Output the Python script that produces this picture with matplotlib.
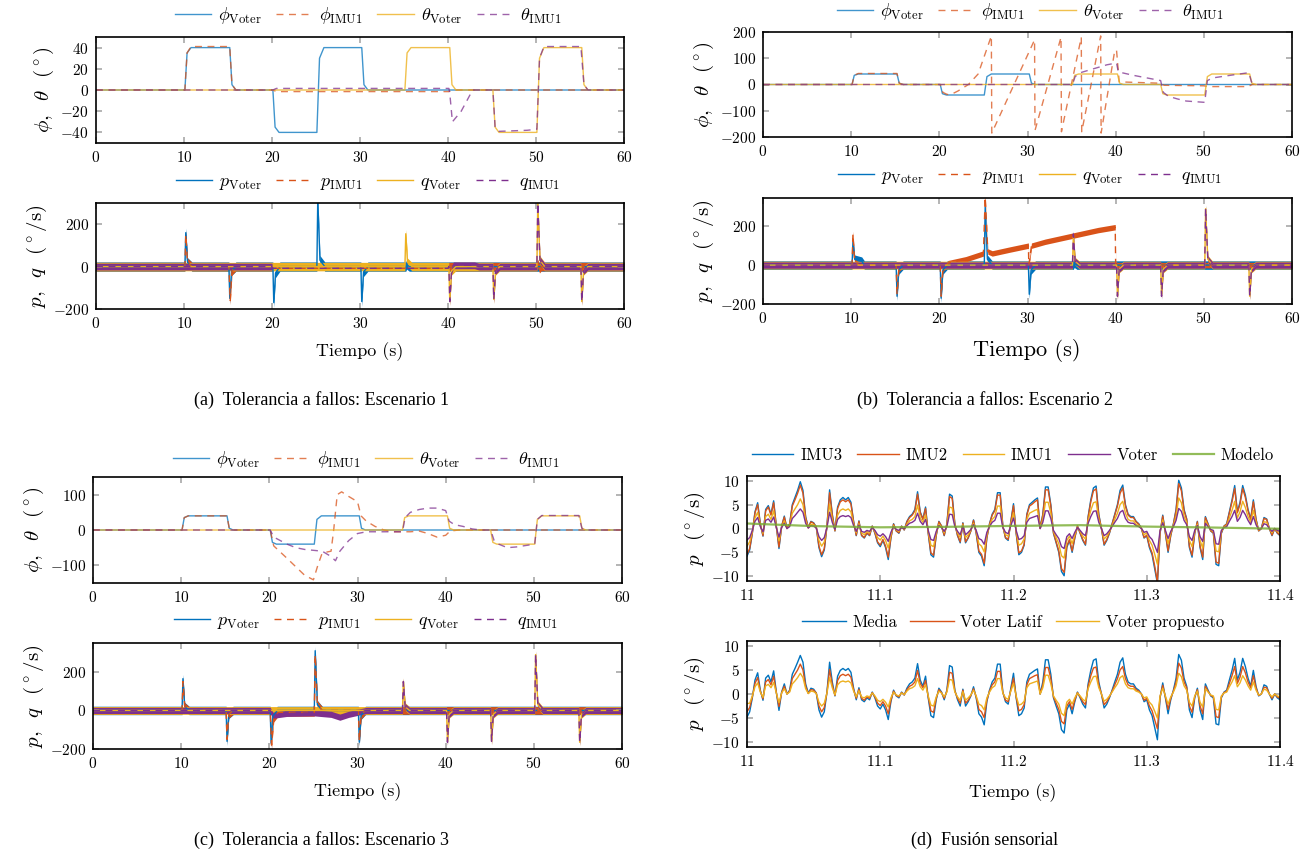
import matplotlib
matplotlib.use('Agg')
import matplotlib.pyplot as plt
from matplotlib.ticker import FuncFormatter
import numpy as np

plt.rcParams['font.family'] = 'cmr10'
plt.rcParams['mathtext.fontset'] = 'cm'
plt.rcParams['axes.formatter.use_mathtext'] = True

BLUE, ORANGE, YELLOW, PURPLE, GREEN = '#0072BD', '#D95319', '#EDB120', '#7E2F8E', '#77AC30'
DASH = (0, (5, 4))

# ---------------- angles (deg) ----------------
# voter steps, same in the three scenarios
t_phi_v = [0, 10.1, 10.35, 10.8, 15.2, 15.45, 15.9, 20.1, 20.35, 20.8, 25.1, 25.4, 25.9, 30.2, 30.45, 30.9, 60]
phi_v = [0, 0, 35, 40, 40, 5, 0, 0, -35, -40, -40, 30, 40, 40, 5, 0, 0]
t_th_v = [0, 35.1, 35.35, 35.8, 40.2, 40.45, 40.9, 45.1, 45.35, 45.8, 50.1, 50.4, 50.9, 55.2, 55.45, 55.9, 60]
th_v = [0, 0, 35, 40, 40, 5, 0, 0, -35, -40, -40, 30, 40, 40, 5, 0, 0]

# scenario 1
t_phi_i_a = [0, 10.1, 10.35, 10.8, 15.2, 15.45, 15.9, 20.1, 20.5, 40.1, 40.5, 60]
phi_i_a = [0, 0, 35, 41, 41, 5, 0, 0, -1.5, -1.5, 0, 0]
t_th_i_a = [0, 20.1, 20.5, 40.1, 40.2, 40.5, 41.5, 42.8, 45.1, 45.35, 45.8, 49, 50.1, 50.4, 50.9, 55.1, 55.45, 55.9, 60]
th_i_a = [0, 0, 1.5, 1.5, -3, -30, -20, 0, 0, -35, -39, -38, -37, 30, 41, 41, 5, 0, 0]

# scenario 2
t_phi_i_b = [0, 10.1, 10.35, 10.8, 15.2, 15.45, 15.9, 20.1, 20.4, 20.9, 21.5, 22.1, 23.3, 24.4, 25.9, 25.95,
             30.8, 30.85, 33.8, 33.85, 36.1, 36.15, 38.3, 38.35, 39.9, 40.1, 40.4, 45, 45.5, 50, 50.5, 55, 55.5, 60]
phi_i_b = [0, 0, 35, 42, 42, 5, 0, 0, -30, -38, -35, -25, 0, 40, 185, -185,
           170, -175, 180, -180, 180, -180, 185, -185, 130, 130, 10, 5, -3, -5, -8, -8, 0, 0]
t_th_i_b = [0, 35.1, 35.4, 36, 37, 38, 39, 40.1, 40.3, 42, 45.1, 45.4, 46, 47, 48, 50.1, 50.4, 51, 53, 55.1, 55.4, 55.9, 60]
th_i_b = [0, 0, 30, 45, 55, 65, 75, 82, 48, 35, 15, -30, -45, -55, -63, -68, 15, 25, 35, 45, 10, 0, 0]

# scenario 3
t_phi_i_c = [0, 10.1, 10.35, 10.8, 15.2, 15.45, 15.9, 20.1, 20.5, 22, 24, 25, 25.5, 26, 27, 27.3, 27.7, 28.2,
             29, 30, 30.4, 31, 32, 33, 34, 36, 37, 38, 39, 40, 40.5, 41.5, 60]
phi_i_c = [0, 0, 35, 40, 40, 5, 0, 0, -45, -80, -128, -141, -100, -65, -60, 0, 100, 108,
           95, 80, 40, 25, 10, 0, -5, -5, -3, -10, -20, -15, -3, 0, 0]
t_th_i_c = [0, 20.1, 20.5, 22, 23, 24, 26, 27, 27.5, 28, 29, 30, 31, 34, 35.1, 35.4, 36, 37, 38, 39, 40,
            40.4, 41, 42, 43, 44, 45.1, 45.5, 46, 47, 48, 50.1, 50.4, 50.9, 55.1, 55.45, 55.9, 60]
th_i_c = [0, 0, -20, -40, -50, -55, -60, -75, -87, -60, -30, -10, -5, -5, -5, 35, 50, 58, 62, 62, 55,
          25, 15, 10, 3, 0, 0, -30, -40, -50, -48, -40, 30, 41, 41, 5, 0, 0]

# ---------------- rates (deg/s): trace and noise half-width ----------------
# scenario 1
t_p_v_a = [0, 10.1, 10.2, 10.4, 10.9, 15.1, 15.2, 15.4, 15.9, 20.1, 20.2, 20.4, 20.9, 25.1, 25.2, 25.45, 26.0,
           30.1, 30.2, 30.4, 30.9, 35.2, 35.3, 35.6, 60]
p_v_a = [0, 0, 160, 20, 0, 0, -150, -20, 0, 0, -170, -30, 0, 0, 320, 30, 0, 0, -165, -25, 0, 0, 10, 0, 0]
t_p_i_a = [0, 10.1, 10.2, 10.4, 10.9, 15.1, 15.25, 15.45, 15.9, 20.0, 20.05, 40.0, 40.05, 50.1, 50.2, 50.4, 50.6, 60]
p_i_a = [0, 0, 150, 20, 0, 0, -160, -20, 0, 0, -8, -8, 0, 0, 15, -10, 0, 0]
w_p_i_a = [20, 20, 20, 20, 20, 20, 20, 20, 20, 20, 0, 0, 20, 20, 20, 20, 20, 20]
t_q_v_a = [0, 35.1, 35.2, 35.4, 35.9, 40.1, 40.2, 40.4, 40.9, 45.1, 45.2, 45.4, 45.9, 50.1, 50.2, 50.45, 51.0,
           55.1, 55.2, 55.4, 55.9, 60]
q_v_a = [0, 0, 155, 20, 0, 0, -165, -20, 0, 0, -155, -20, 0, 0, 300, 30, 0, 0, -165, -20, 0, 0]
t_q_i_a = [0, 20.0, 20.05, 40.0, 40.1, 40.2, 40.4, 40.6, 43.0, 43.5, 45.1, 45.2, 45.4, 45.9, 50.1, 50.2, 50.45,
           51.0, 55.1, 55.2, 55.4, 55.9, 60]
q_i_a = [0, 0, -8, -8, 0, -165, -20, 6, 6, 0, 0, -155, -20, 0, 0, 300, 30, 0, 0, -165, -20, 0, 0]
w_q_i_a = [16, 16, 0, 0, 16, 16, 16, 16, 16, 16, 16, 16, 16, 16, 16, 16, 16, 16, 16, 16, 16, 16, 16]

# scenario 2
t_p_v_b = [0, 10.1, 10.2, 10.4, 11.2, 11.5, 15.1, 15.2, 15.4, 15.9, 20.1, 20.2, 20.4, 20.9, 25.1, 25.2, 25.45,
           26.0, 30.1, 30.2, 30.4, 30.9, 35.2, 35.3, 35.6, 60]
p_v_b = [0, 0, 120, 30, 20, 0, 0, -160, -25, 0, 0, -170, -25, 0, 0, 300, 30, 0, 0, -150, -25, 0, 0, 10, 0, 0]
t_p_i_b = [0, 10.1, 10.2, 10.4, 10.9, 15.1, 15.2, 15.4, 15.9, 20.1, 20.2, 20.4, 21.0, 23.0, 24.0, 25.0, 25.2,
           25.5, 26.0, 28.0, 30.1, 30.15, 30.45, 32, 34, 36, 38, 39.95, 40.0, 40.2, 60]
p_i_b = [0, 0, 160, 20, 0, 0, -150, -20, 0, 0, -160, -20, 10, 30, 45, 60, 350,
         70, 60, 80, 100, 0, 100, 120, 140, 160, 180, 195, 0, 0, 0]
t_q_b = [0, 35.1, 35.2, 35.4, 35.9, 40.1, 40.2, 40.4, 40.9, 45.1, 45.2, 45.4, 45.9, 50.1, 50.2, 50.45, 51.0,
         55.1, 55.2, 55.4, 55.9, 60]
q_v_b = [0, 0, 150, 20, 0, 0, -160, -20, 0, 0, -150, -20, 0, 0, 290, 30, 0, 0, -160, -20, 0, 0]
q_i_b = [0, 0, 160, 20, 0, 0, -160, -20, 0, 0, -160, -20, 0, 0, 290, 30, 0, 0, -160, -20, 0, 0]

# scenario 3
t_p_v_c = [0, 10.1, 10.2, 10.4, 10.9, 15.1, 15.2, 15.4, 15.9, 20.1, 20.2, 20.4, 20.9, 25.1, 25.2, 25.45, 26.0,
           30.1, 30.2, 30.4, 30.9, 60]
p_v_c = [0, 0, 165, 20, 0, 0, -160, -20, 0, 0, -170, -30, 0, 0, 310, 30, 0, 0, -165, -25, 0, 0]
t_p_i_c = [0, 10.1, 10.2, 10.4, 10.9, 15.1, 15.2, 15.4, 15.9, 20.1, 20.25, 20.5, 21, 25.1, 25.2, 25.45, 26.0,
           30.1, 30.2, 30.4, 30.9, 60]
p_i_c = [0, 0, 150, 20, 0, 0, -150, -20, 0, 0, -180, -40, -10, -10, 290, 30, 0, 0, -160, -25, 0, 0]
t_q_v_c = [0, 35.1, 35.2, 35.4, 35.9, 40.1, 40.2, 40.4, 40.9, 45.1, 45.2, 45.4, 45.9, 50.1, 50.2, 50.45, 51.0,
           55.1, 55.2, 55.4, 55.9, 60]
q_v_c = [0, 0, 150, 20, 0, 0, -160, -20, 0, 0, -160, -20, 0, 0, 290, 30, 0, 0, -165, -20, 0, 0]
t_q_i_c = [0, 20.1, 20.4, 22, 25, 27, 28, 29, 30, 31, 35.1, 35.2, 35.4, 35.9, 40.1, 40.2, 40.4, 40.9,
           45.1, 45.2, 45.4, 45.9, 50.1, 50.2, 50.45, 51.0, 55.1, 55.2, 55.4, 55.9, 60]
q_i_c = [0, 0, -25, -15, -12, -20, -35, -20, -10, 0, 0, 150, 20, 0, 0, -165, -20, 0,
         0, -160, -20, 0, 0, 290, 30, 0, 0, -165, -20, 0, 0]

# ---------------- sensor fusion, 11.0 - 11.4 s every 2 ms ----------------
t_d = np.linspace(11.0, 11.4, 201)
imu3 = [-5.8, -4.5, -1.0, 3.5, 5.4, 1.0, -1.6, 4.0, 4.8, 3.0,
        5.8, 0.5, -4.2, 0.5, 2.6, 0.0, 1.0, 5.0, 6.5, 8.0,
        9.8, 8.0, 2.5, 0.2, 1.5, 1.2, 0.3, -4.0, -5.9, -4.5,
        0.5, 8.1, 3.0, -0.5, 4.5, 6.0, 6.5, 6.0, 6.5, 5.5,
        1.5, -1.5, 1.6, -1.5, -2.0, -1.0, -1.5, 0.5, -1.0, -3.0,
        -3.8, -2.5, -4.0, -6.5, -2.0, 1.0, -0.5, -1.0, 0.5, -0.3,
        1.5, 2.5, 3.0, 4.0, 7.7, 3.5, 2.0, 4.5, -1.0, -5.5,
        -6.0, -1.5, 1.5, 0.5, -1.5, 1.0, 7.2, 6.8, 1.0, -1.5,
        -3.0, 1.2, -3.0, -2.0, -0.5, 1.8, -1.0, -5.0, -5.8, -7.8,
        -2.0, 1.0, 3.0, 4.0, 7.5, 7.5, 0.5, -2.0, -2.5, 1.5,
        5.2, -1.0, -5.5, -5.0, -3.5, 3.0, 5.0, 5.5, 6.0, 6.4,
        0.0, 3.0, 8.7, 8.7, 5.0, -1.0, -3.0, -5.0, -9.0, -9.9,
        -4.0, -2.5, -5.0, -2.0, 0.5, -1.0, -2.5, -3.5, 2.5, 6.0,
        8.5, 8.9, 3.0, 0.0, -3.5, -2.5, -1.0, 1.0, 3.0, 5.0,
        8.0, 9.1, 5.0, 3.0, 2.5, 2.5, 1.5, 1.0, 0.0, -2.0,
        -1.5, -4.0, -5.5, -8.5, -11.5, -1.0, 2.8, -1.0, -5.0, -1.5,
        1.0, 4.0, 10.1, 8.5, 4.0, 2.0, -4.0, -6.0, -1.0, 1.5,
        -4.0, -6.5, 2.5, 1.0, -0.5, -1.0, -7.5, -7.8, -1.0, 0.5,
        1.0, 3.5, 6.0, 9.0, 3.5, 5.5, 9.0, 7.0, 4.0, 2.0,
        6.0, 2.0, -0.5, 0.0, 2.3, 2.0, 0.0, -1.5, 0.0, -1.0,
        -1.5]
imu2 = [-5.4, -4.2, -0.9, 3.3, 5.0, 0.9, -1.5, 3.7, 4.5, 2.8,
        5.4, 0.5, -3.9, 0.5, 2.4, 0.0, 0.9, 4.7, 6.0, 7.4,
        9.1, 7.4, 2.3, 0.2, 1.4, 1.1, 0.3, -3.7, -5.5, -4.2,
        0.5, 7.5, 2.8, -0.5, 4.2, 5.6, 6.0, 5.6, 6.0, 5.1,
        1.4, -1.4, 1.5, -1.4, -1.9, -0.9, -1.4, 0.5, -0.9, -2.8,
        -3.5, -2.3, -3.7, -6.0, -1.9, 0.9, -0.5, -0.9, 0.5, -0.3,
        1.4, 2.3, 2.8, 3.7, 7.2, 3.3, 1.9, 4.2, -0.9, -5.1,
        -5.6, -1.4, 1.4, 0.5, -1.4, 0.9, 6.7, 6.3, 0.9, -1.4,
        -2.8, 1.1, -2.8, -1.9, -0.5, 1.7, -0.9, -4.7, -5.4, -7.3,
        -1.9, 0.9, 2.8, 3.7, 7.0, 7.0, 0.5, -1.9, -2.3, 1.4,
        4.8, -0.9, -5.1, -4.7, -3.3, 2.8, 4.7, 5.1, 5.6, 6.0,
        0.0, 2.8, 8.1, 8.1, 4.7, -0.9, -2.8, -4.7, -8.4, -9.2,
        -3.7, -2.3, -4.7, -1.9, 0.5, -0.9, -2.3, -3.3, 2.3, 5.6,
        7.9, 8.3, 2.8, 0.0, -3.3, -2.3, -0.9, 0.9, 2.8, 4.7,
        7.4, 8.5, 4.7, 2.8, 2.3, 2.3, 1.4, 0.9, 0.0, -1.9,
        -1.4, -3.7, -5.1, -7.9, -11.2, -0.9, 2.6, -0.9, -4.7, -1.4,
        0.9, 3.7, 9.4, 7.9, 3.7, 1.9, -3.7, -5.6, -0.9, 1.4,
        -3.7, -6.0, 2.3, 0.9, -0.5, -0.9, -7.0, -7.3, -0.9, 0.5,
        0.9, 3.3, 5.6, 8.4, 3.3, 5.1, 8.4, 6.5, 3.7, 1.9,
        5.6, 1.9, -0.5, 0.0, 2.1, 1.9, 0.0, -1.4, 0.0, -0.9,
        -1.4]
imu1 = [-3.7, -2.8, -0.6, 2.2, 3.4, 0.6, -1.0, 2.5, 3.0, 1.9,
        3.7, 0.3, -2.6, 0.3, 1.6, 0.0, 0.6, 3.2, 4.1, 5.0,
        6.2, 5.0, 1.6, 0.1, 0.9, 0.8, 0.2, -2.5, -3.7, -2.8,
        0.3, 5.1, 1.9, -0.3, 2.8, 3.8, 4.1, 3.8, 4.1, 3.5,
        0.9, -0.9, 1.0, -0.9, -1.3, -0.6, -0.9, 0.3, -0.6, -1.9,
        -2.4, -1.6, -2.5, -4.1, -1.3, 0.6, -0.3, -0.6, 0.3, -0.2,
        0.9, 1.6, 1.9, 2.5, 4.9, 2.2, 1.3, 2.8, -0.6, -3.5,
        -3.8, -0.9, 0.9, 0.3, -0.9, 0.6, 4.5, 4.3, 0.6, -0.9,
        -1.9, 0.8, -1.9, -1.3, -0.3, 1.1, -0.6, -3.2, -3.7, -4.9,
        -1.3, 0.6, 1.9, 2.5, 4.7, 4.7, 0.3, -1.3, -1.6, 0.9,
        3.3, -0.6, -3.5, -3.2, -2.2, 1.9, 3.2, 3.5, 3.8, 4.0,
        0.0, 1.9, 5.5, 5.5, 3.2, -0.6, -1.9, -3.2, -5.7, -6.2,
        -2.5, -1.6, -3.2, -1.3, 0.3, -0.6, -1.6, -2.2, 1.6, 3.8,
        5.4, 5.6, 1.9, 0.0, -2.2, -1.6, -0.6, 0.6, 1.9, 3.2,
        5.0, 5.7, 3.2, 1.9, 1.6, 1.6, 0.9, 0.6, 0.0, -1.3,
        -0.9, -2.5, -3.5, -5.4, -7.5, -0.6, 1.8, -0.6, -3.2, -0.9,
        0.6, 2.5, 6.4, 5.4, 2.5, 1.3, -2.5, -3.8, -0.6, 0.9,
        -2.5, -4.1, 1.6, 0.6, -0.3, -0.6, -4.7, -4.9, -0.6, 0.3,
        0.6, 2.2, 3.8, 5.7, 2.2, 3.5, 5.7, 4.4, 2.5, 1.3,
        3.8, 1.3, -0.3, 0.0, 1.4, 1.3, 0.0, -0.9, 0.0, -0.6,
        -0.9]
voter = [-2.4, -1.9, -0.4, 1.5, 2.3, 0.4, -0.7, 1.7, 2.0, 1.3,
         2.4, 0.2, -1.8, 0.2, 1.1, 0.0, 0.4, 2.1, 2.7, 3.4,
         4.1, 3.4, 1.1, 0.1, 0.6, 0.5, 0.1, -1.7, -2.5, -1.9,
         0.2, 3.4, 1.3, -0.2, 1.9, 2.5, 2.7, 2.5, 2.7, 2.3,
         0.6, -0.6, 0.7, -0.6, -0.8, -0.4, -0.6, 0.2, -0.4, -1.3,
         -1.6, -1.1, -1.7, -2.7, -0.8, 0.4, -0.2, -0.4, 0.2, -0.1,
         0.6, 1.1, 1.3, 1.7, 3.2, 1.5, 0.8, 1.9, -0.4, -2.3,
         -2.5, -0.6, 0.6, 0.2, -0.6, 0.4, 3.0, 2.9, 0.4, -0.6,
         -1.3, 0.5, -1.3, -0.8, -0.2, 0.8, -0.4, -2.1, -2.4, -3.3,
         -0.8, 0.4, 1.3, 1.7, 3.2, 3.2, 0.2, -0.8, -1.1, 0.6,
         2.2, -0.4, -2.3, -2.1, -1.5, 1.3, 2.1, 2.3, 2.5, 2.7,
         0.0, 1.3, 3.7, 3.7, 2.1, -0.4, -1.3, -2.1, -3.8, -4.2,
         -1.7, -1.1, -2.1, -0.8, 0.2, -0.4, -1.1, -1.5, 1.1, 2.5,
         3.6, 3.7, 1.3, 0.0, -1.5, -1.1, -0.4, 0.4, 1.3, 2.1,
         3.4, 3.8, 2.1, 1.3, 1.1, 1.1, 0.6, 0.4, 0.0, -0.8,
         -0.6, -1.7, -2.3, -3.6, -5.0, -0.4, 1.2, -0.4, -2.1, -0.6,
         0.4, 1.7, 4.2, 3.6, 1.7, 0.8, -1.7, -2.5, -0.4, 0.6,
         -1.7, -2.7, 1.1, 0.4, -0.2, -0.4, -3.2, -3.3, -0.4, 0.2,
         0.4, 1.5, 2.5, 3.8, 1.5, 2.3, 3.8, 2.9, 1.7, 0.8,
         2.5, 0.8, -0.2, 0.0, 1.0, 0.8, 0.0, -0.6, 0.0, -0.4,
         -0.6]
t_modelo = [11.0, 11.05, 11.1, 11.15, 11.2, 11.25, 11.3, 11.35, 11.4]
modelo = [1.05, 0.5, 0.25, 0.35, 0.55, 0.7, 0.4, 0.2, -0.05]

media = [-4.8, -3.7, -0.8, 2.9, 4.4, 0.8, -1.3, 3.3, 3.9, 2.5,
         4.8, 0.4, -3.4, 0.4, 2.1, 0.0, 0.8, 4.1, 5.3, 6.6,
         8.0, 6.6, 2.1, 0.2, 1.2, 1.0, 0.2, -3.3, -4.8, -3.7,
         0.4, 6.6, 2.5, -0.4, 3.7, 4.9, 5.3, 4.9, 5.3, 4.5,
         1.2, -1.2, 1.3, -1.2, -1.6, -0.8, -1.2, 0.4, -0.8, -2.5,
         -3.1, -2.1, -3.3, -5.3, -1.6, 0.8, -0.4, -0.8, 0.4, -0.2,
         1.2, 2.1, 2.5, 3.3, 6.3, 2.9, 1.6, 3.7, -0.8, -4.5,
         -4.9, -1.2, 1.2, 0.4, -1.2, 0.8, 5.9, 5.6, 0.8, -1.2,
         -2.5, 1.0, -2.5, -1.6, -0.4, 1.5, -0.8, -4.1, -4.8, -6.4,
         -1.6, 0.8, 2.5, 3.3, 6.2, 6.2, 0.4, -1.6, -2.1, 1.2,
         4.3, -0.8, -4.5, -4.1, -2.9, 2.5, 4.1, 4.5, 4.9, 5.2,
         0.0, 2.5, 7.1, 7.1, 4.1, -0.8, -2.5, -4.1, -7.4, -8.1,
         -3.3, -2.1, -4.1, -1.6, 0.4, -0.8, -2.1, -2.9, 2.1, 4.9,
         7.0, 7.3, 2.5, 0.0, -2.9, -2.1, -0.8, 0.8, 2.5, 4.1,
         6.6, 7.5, 4.1, 2.5, 2.1, 2.1, 1.2, 0.8, 0.0, -1.6,
         -1.2, -3.3, -4.5, -7.0, -9.5, -0.8, 2.3, -0.8, -4.1, -1.2,
         0.8, 3.3, 8.2, 7.0, 3.3, 1.6, -3.3, -4.9, -0.8, 1.2,
         -3.3, -5.3, 2.1, 0.8, -0.4, -0.8, -6.2, -6.4, -0.8, 0.4,
         0.8, 2.9, 4.9, 7.4, 2.9, 4.5, 7.4, 5.7, 3.3, 1.6,
         4.9, 1.6, -0.4, 0.0, 1.9, 1.6, 0.0, -1.2, 0.0, -0.8,
         -1.2]
latif = [-3.7, -2.8, -0.6, 2.2, 3.4, 0.6, -1.0, 2.5, 3.0, 1.9,
         3.7, 0.3, -2.6, 0.3, 1.6, 0.0, 0.6, 3.2, 4.1, 5.0,
         6.2, 5.0, 1.6, 0.1, 0.9, 0.8, 0.2, -2.5, -3.7, -2.8,
         0.3, 5.1, 1.9, -0.3, 2.8, 3.8, 4.1, 3.8, 4.1, 3.5,
         0.9, -0.9, 1.0, -0.9, -1.3, -0.6, -0.9, 0.3, -0.6, -1.9,
         -2.4, -1.6, -2.5, -4.1, -1.3, 0.6, -0.3, -0.6, 0.3, -0.2,
         0.9, 1.6, 1.9, 2.5, 4.9, 2.2, 1.3, 2.8, -0.6, -3.5,
         -3.8, -0.9, 0.9, 0.3, -0.9, 0.6, 4.5, 4.3, 0.6, -0.9,
         -1.9, 0.8, -1.9, -1.3, -0.3, 1.1, -0.6, -3.2, -3.7, -4.9,
         -1.3, 0.6, 1.9, 2.5, 4.7, 4.7, 0.3, -1.3, -1.6, 0.9,
         3.3, -0.6, -3.5, -3.2, -2.2, 1.9, 3.2, 3.5, 3.8, 4.0,
         0.0, 1.9, 5.5, 5.5, 3.2, -0.6, -1.9, -3.2, -5.7, -6.2,
         -2.5, -1.6, -3.2, -1.3, 0.3, -0.6, -1.6, -2.2, 1.6, 3.8,
         5.4, 5.6, 1.9, 0.0, -2.2, -1.6, -0.6, 0.6, 1.9, 3.2,
         5.0, 5.7, 3.2, 1.9, 1.6, 1.6, 0.9, 0.6, 0.0, -1.3,
         -0.9, -2.5, -3.5, -5.4, -7.2, -0.6, 1.8, -0.6, -3.2, -0.9,
         0.6, 2.5, 6.4, 5.4, 2.5, 1.3, -2.5, -3.8, -0.6, 0.9,
         -2.5, -4.1, 1.6, 0.6, -0.3, -0.6, -4.7, -4.9, -0.6, 0.3,
         0.6, 2.2, 3.8, 5.7, 2.2, 3.5, 5.7, 4.4, 2.5, 1.3,
         3.8, 1.3, -0.3, 0.0, 1.4, 1.3, 0.0, -0.9, 0.0, -0.6,
         -0.9]
propuesto = [-2.0, -1.9, -0.4, 1.5, 2.3, 0.4, -0.7, 1.7, 2.0, 1.3,
             2.4, 0.2, -1.8, 0.2, 1.1, 0.0, 0.4, 2.1, 2.7, 3.4,
             4.3, 3.4, 1.1, 0.1, 0.6, 0.5, 0.1, -1.7, -2.5, -1.9,
             0.2, 3.4, 1.3, -0.2, 1.9, 2.5, 2.7, 2.5, 2.7, 2.3,
             0.6, -0.6, 0.7, -0.6, -0.8, -0.4, -0.6, 0.2, -0.4, -1.3,
             -1.6, -1.1, -1.7, -2.7, -0.8, 0.4, -0.2, -0.4, 0.2, -0.1,
             0.6, 1.1, 1.3, 1.7, 3.2, 1.5, 0.8, 1.9, -0.4, -2.3,
             -2.5, -0.6, 0.6, 0.2, -0.6, 0.4, 3.0, 2.9, 0.4, -0.6,
             -1.3, 0.5, -1.3, -0.8, -0.2, 0.8, -0.4, -2.1, -2.4, -3.3,
             -0.8, 0.4, 1.3, 1.7, 3.2, 3.2, 0.2, -0.8, -1.1, 0.6,
             2.2, -0.4, -2.3, -2.1, -1.5, 1.3, 2.1, 2.3, 2.5, 2.7,
             0.0, 1.3, 3.9, 3.9, 2.1, -0.4, -1.3, -2.1, -4.0, -4.5,
             -1.7, -1.1, -2.1, -0.8, 0.2, -0.4, -1.1, -1.5, 1.1, 2.5,
             3.6, 3.7, 1.3, 0.0, -1.5, -1.1, -0.4, 0.4, 1.3, 2.1,
             3.4, 3.8, 2.1, 1.3, 1.1, 1.1, 0.6, 0.4, 0.0, -0.8,
             -0.6, -1.7, -2.3, -3.6, -5.0, -0.4, 1.2, -0.4, -2.1, -0.6,
             0.4, 1.7, 4.3, 3.6, 1.7, 0.8, -1.7, -2.5, -0.4, 0.6,
             -1.7, -2.7, 1.1, 0.4, -0.2, -0.4, -3.2, -3.3, -0.4, 0.2,
             0.4, 1.5, 2.5, 3.8, 1.5, 2.3, 3.8, 2.9, 1.7, 0.8,
             2.5, 0.8, -0.2, 0.0, 1.0, 0.8, 0.0, -0.6, 0.0, -0.4,
             -0.6]

# ---------------- figure ----------------
W, H = 1311, 852
fig = plt.figure(figsize=(W / 100, H / 100), dpi=100)
fmt = FuncFormatter(lambda v, p: '$%g$' % v)


def box(x0, y0, x1, y1):
    return fig.add_axes([x0 / W, 1 - y1 / H, (x1 - x0) / W, (y1 - y0) / H])


def style(ax, xlim, ylim, xticks, yticks, ylabel):
    ax.set_xlim(*xlim)
    ax.set_ylim(*ylim)
    ax.set_xticks(xticks)
    ax.set_yticks(yticks)
    ax.xaxis.set_major_formatter(fmt)
    ax.yaxis.set_major_formatter(fmt)
    ax.tick_params(direction='in', length=4, width=1.2, color='#a8a8a8', top=True, right=True,
                   labelsize=11, pad=5)
    for s in ax.spines.values():
        s.set_linewidth(1.2)
    ax.set_ylabel(ylabel, fontsize=15, labelpad=3)


def legend(ax, x, y, size=13, hl=2.0, spacing=0.8):
    ax.legend(loc='center', bbox_to_anchor=(x / W, 1 - y / H), bbox_transform=fig.transFigure,
              ncol=5, frameon=False, handlelength=hl, handletextpad=0.4, columnspacing=spacing,
              fontsize=size, borderaxespad=0, borderpad=0)


def angles(ax, t_pi, pi, t_ti, ti):
    ax.plot(t_phi_v, phi_v, color=BLUE, lw=1.0, alpha=0.75, label=r'$\phi_{\mathrm{Voter}}$')
    ax.plot(t_pi, pi, color=ORANGE, lw=1.0, ls=DASH, alpha=0.75, label=r'$\phi_{\mathrm{IMU1}}$')
    ax.plot(t_th_v, th_v, color=YELLOW, lw=1.0, alpha=0.8, label=r'$\theta_{\mathrm{Voter}}$')
    ax.plot(t_ti, ti, color=PURPLE, lw=1.0, ls=DASH, alpha=0.75, label=r'$\theta_{\mathrm{IMU1}}$')


def rate(ax, t, v, w, color, dashed, label):
    v = np.asarray(v, float)
    w = np.broadcast_to(np.asarray(w, float), v.shape)
    ax.fill_between(t, v - w, v + w, color=color, lw=0)
    ax.plot(t, v, color=color, lw=1.0, ls=DASH if dashed else '-', label=label)


def rates(ax, pv, pi, qv, qi):
    rate(ax, *pv, BLUE, False, r'$p_{\mathrm{Voter}}$')
    rate(ax, *pi, ORANGE, True, r'$p_{\mathrm{IMU1}}$')
    rate(ax, *qv, YELLOW, False, r'$q_{\mathrm{Voter}}$')
    rate(ax, *qi, PURPLE, True, r'$q_{\mathrm{IMU1}}$')


ang_label = r'$\phi$,  $\theta$  ($^\circ$)'
rate_label = r'$p$,  $q$  ($^\circ$/s)'
x60 = list(range(0, 61, 10))

# (a)
ax = box(96, 37, 624, 143)
angles(ax, t_phi_i_a, phi_i_a, t_th_i_a, th_i_a)
style(ax, (0, 60), (-50, 50), x60, [-40, -20, 0, 20, 40], ang_label)
legend(ax, 368, 16)
ax = box(96, 203, 624, 309)
rates(ax, (t_p_v_a, p_v_a, 22), (t_p_i_a, p_i_a, w_p_i_a), (t_q_v_a, q_v_a, 20), (t_q_i_a, q_i_a, w_q_i_a))
style(ax, (0, 60), (-200, 300), x60, [-200, 0, 200], rate_label)
legend(ax, 368, 183)
fig.text(360 / W, 1 - 352 / H, 'Tiempo (s)', ha='center', va='center', fontsize=13)

# (b)
ax = box(763, 32, 1292, 137)
angles(ax, t_phi_i_b, phi_i_b, t_th_i_b, th_i_b)
style(ax, (0, 60), (-200, 200), x60, [-200, -100, 0, 100, 200], ang_label)
legend(ax, 1030, 12)
ax = box(763, 198, 1292, 304)
rates(ax, (t_p_v_b, p_v_b, 22), (t_p_i_b, p_i_b, 14), (t_q_b, q_v_b, 20), (t_q_b, q_i_b, 16))
style(ax, (0, 60), (-200, 345), x60, [-200, 0, 200], rate_label)
legend(ax, 1030, 177)
fig.text(1027 / W, 1 - 351 / H, 'Tiempo (s)', ha='center', va='center', fontsize=16)

# (c)
ax = box(93, 477, 622, 583)
angles(ax, t_phi_i_c, phi_i_c, t_th_i_c, th_i_c)
style(ax, (0, 60), (-150, 150), x60, [-100, 0, 100], ang_label)
legend(ax, 366, 460)
ax = box(93, 643, 622, 749)
rates(ax, (t_p_v_c, p_v_c, 22), (t_p_i_c, p_i_c, 20), (t_q_v_c, q_v_c, 20), (t_q_i_c, q_i_c, 16))
style(ax, (0, 60), (-200, 350), x60, [-200, 0, 200], rate_label)
legend(ax, 366, 622)
fig.text(358 / W, 1 - 792 / H, 'Tiempo (s)', ha='center', va='center', fontsize=13)

# (d)
xd = [11, 11.1, 11.2, 11.3, 11.4]
ax = box(747, 476, 1280, 581)
ax.plot(t_d, imu3, color=BLUE, lw=1.0, label='IMU3')
ax.plot(t_d, imu2, color=ORANGE, lw=1.0, label='IMU2')
ax.plot(t_d, imu1, color=YELLOW, lw=1.0, label='IMU1')
ax.plot(t_d, voter, color=PURPLE, lw=1.0, label='Voter')
ax.plot(t_modelo, modelo, color=GREEN, lw=1.6, alpha=0.8, label='Modelo')
style(ax, (11, 11.4), (-11, 11), xd, [-10, -5, 0, 5, 10], r'$p$  ($^\circ$/s)')
legend(ax, 1013, 455, 12, 2.5, 0.9)
ax = box(747, 641, 1280, 747)
ax.plot(t_d, media, color=BLUE, lw=1.0, label='Media')
ax.plot(t_d, latif, color=ORANGE, lw=1.0, label='Voter Latif')
ax.plot(t_d, propuesto, color=YELLOW, lw=1.0, label='Voter propuesto')
style(ax, (11, 11.4), (-11, 11), xd, [-10, -5, 0, 5, 10], r'$p$  ($^\circ$/s)')
legend(ax, 1013, 622, 12, 2.6, 0.8)
fig.text(1013 / W, 1 - 793 / H, 'Tiempo (s)', ha='center', va='center', fontsize=13)

# captions
cap = dict(ha='center', va='center', fontsize=13, family='Liberation Serif')
fig.text(322 / W, 1 - 400 / H, '(a)  Tolerancia a fallos: Escenario 1', **cap)
fig.text(985 / W, 1 - 400 / H, '(b)  Tolerancia a fallos: Escenario 2', **cap)
fig.text(322 / W, 1 - 840 / H, '(c)  Tolerancia a fallos: Escenario 3', **cap)
fig.text(985 / W, 1 - 840 / H, '(d)  Fusión sensorial', **cap)

fig.savefig('out.png', dpi=100)
